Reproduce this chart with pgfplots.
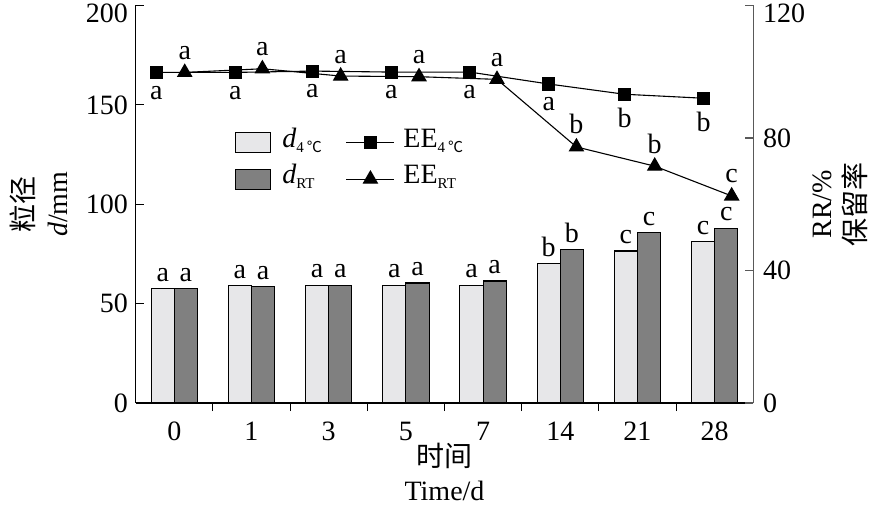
\documentclass[border=0pt]{standalone}
\usepackage{pgfplots}
\pgfplotsset{compat=1.18}
\usepackage{fontspec}
\setmainfont{Liberation Serif}
\newfontfamily\cjk{Noto Sans CJK SC}
\definecolor{lightbar}{RGB}{231,231,233}
\definecolor{darkbar}{RGB}{128,128,128}
\newcommand{\sub}[1]{\raisebox{-5pt}{\fontsize{15}{15}\selectfont #1}}
\newcommand{\bigf}{\fontsize{28}{34}\selectfont}
\begin{document}
\begin{tikzpicture}
\useasboundingbox (-135.7pt,-102pt) rectangle (739.3pt,403pt);
\begin{axis}[
  scale only axis, width=617.6pt, height=397.5pt,
  xmin=-0.5, xmax=7.5, ymin=0, ymax=200,
  axis x line*=bottom, axis y line*=left,
  axis line style={line width=1.1pt, black},
  xtick={0,...,7}, xticklabels={0,1,3,5,7,14,21,28},
  minor xtick={0.5,1.5,2.5,3.5,4.5,5.5,6.5},
  every major x tick/.append style={draw=none},
  ytick={0,50,100,150},
  extra y ticks={200},
  extra y tick style={yticklabel style={yshift=-7.5pt}},
  tick align=inside, major tick length=8pt, minor tick length=8pt,
  tick style={black, line width=1.1pt},
  /pgf/number format/assume math mode=true,
  tick label style={font=\bigf, inner sep=0pt},
  xticklabel style={yshift=-11pt},
  yticklabel style={xshift=-7.5pt},
  ylabel={{\cjk 粒径}\\\textit{d}/mm},
  ylabel style={font=\bigf, align=center, inner sep=0pt, at={(axis description cs:-0.1096,0.5)}, anchor=south},
  xlabel={{\cjk 时间}\\Time/d},
  xlabel style={font=\bigf, align=center, inner sep=0pt, at={(axis description cs:0.5,-0.1006)}, anchor=north},
  clip=false,
  ybar, bar width=0.3,
]
\addplot[fill=lightbar, draw=black, line width=1.1pt, bar shift=-0.15,
  nodes near coords, point meta=explicit symbolic,
  every node near coord/.append style={anchor=base, yshift=7.5pt, inner sep=0pt, font=\bigf, text=black}]
  coordinates {(0,57.5)[a] (1,59.0)[a] (2,59.3)[a] (3,59.3)[a] (4,59.3)[a] (5,70.1)[b] (6,76.5)[c] (7,81.1)[c]};
\addplot[fill=darkbar, draw=black, line width=1.1pt, bar shift=0.15,
  nodes near coords, point meta=explicit symbolic,
  every node near coord/.append style={anchor=base, yshift=7.5pt, inner sep=0pt, font=\bigf, text=black}]
  coordinates {(0,57.5)[a] (1,58.5)[a] (2,59.3)[a] (3,60.4)[a] (4,61.4)[a] (5,77.2)[b] (6,85.6)[c] (7,88.0)[c]};
\end{axis}
\begin{axis}[
  scale only axis, width=617.6pt, height=397.5pt,
  xmin=-0.5, xmax=7.5, ymin=0, ymax=120,
  axis x line=none, axis y line*=right,
  axis line style={line width=1.1pt, black!65},
  ytick={0,40,80},
  extra y ticks={120},
  extra y tick style={yticklabel style={yshift=-7.5pt}},
  tick align=inside, major tick length=8pt,
  tick style={black!65, line width=1.1pt},
  /pgf/number format/assume math mode=true,
  tick label style={font=\bigf, inner sep=0pt},
  yticklabel style={xshift=9.5pt},
  ylabel={RR/\%\\{\cjk 保留率}},
  ylabel style={font=\bigf, align=center, inner sep=0pt, at={(axis description cs:1.0967,0.5)}, anchor=north},
  clip=false,
  legend columns=2,
  legend cell align=left,
  legend image code/.code={\draw[mark repeat=2,mark phase=2,#1] plot coordinates {(0pt,0pt) (24pt,0pt) (48pt,0pt)};},
  legend style={at={(axis description cs:0.1608,0.689)}, anchor=north west, draw=none, fill=none,
    inner sep=0pt, font=\bigf, row sep=9.3pt,
    nodes={inner sep=0pt, text height=18pt, text depth=9pt},
    /tikz/column 1/.style={column sep=11pt},
    /tikz/column 2/.style={column sep=24pt},
    /tikz/column 3/.style={column sep=8.5pt}},
]
\addlegendimage{legend image code/.code={\draw[fill=lightbar, draw=black, line width=1.1pt] (0pt,-10pt) rectangle (35pt,10pt);}}
\addlegendentry{\textit{d}\sub{4\hspace{3pt}{\cjk ℃}}}
\addplot[black, line width=1.1pt, mark=square*, mark size=6pt, mark options={solid,fill=black},
  nodes near coords, point meta=explicit symbolic,
  every node near coord/.append style={anchor=north, yshift=-13pt, inner sep=0pt, font=\bigf, text=black}]
  coordinates {(-0.232,99.8)[a] (0.791,99.8)[a] (1.789,100.2)[a] (2.812,99.9)[a] (3.826,99.9)[a] (4.850,96.3)[a] (5.834,93.2)[b] (6.858,92.0)[b]};
\addlegendentry{EE\sub{4\hspace{3pt}{\cjk ℃}}}
\addlegendimage{legend image code/.code={\draw[fill=darkbar, draw=black, line width=1.1pt] (0pt,-10pt) rectangle (35pt,10pt);}}
\addlegendentry{\textit{d}\sub{RT}}
\addplot[black, line width=1.1pt, mark=triangle*, mark size=8pt, mark options={solid,fill=black},
  nodes near coords, point meta=explicit symbolic,
  every node near coord/.append style={anchor=base, yshift=13pt, inner sep=0pt, font=\bigf, text=black}]
  coordinates {(0.135,99.8)[a] (1.141,100.9)[a] (2.155,98.7)[a] (3.170,98.5)[a] (4.180,97.7)[a] (5.209,77.3)[b] (6.223,71.5)[b] (7.220,62.5)[c]};
\addlegendentry{EE\sub{RT}}
\end{axis}
\end{tikzpicture}
\end{document}
